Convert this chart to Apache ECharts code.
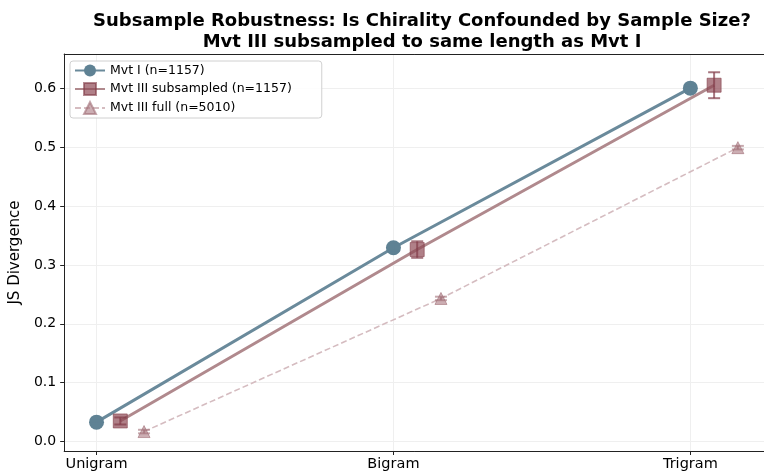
<!DOCTYPE html>
<html>
<head>
<meta charset="utf-8">
<script src="https://cdn.jsdelivr.net/npm/echarts@6/dist/echarts.min.js"></script>
<style>
  html, body { margin: 0; padding: 0; background: #fff; }
  #chart { width: 764px; height: 475px; }
</style>
</head>
<body>
<div id="chart"></div>
<script>
const categories = ['Unigram', 'Bigram', 'Trigram']
const yTicks = [0, 0.1, 0.2, 0.3, 0.4, 0.5, 0.6]

// JS divergence per n-gram level
const mvt1 = [0.033, 0.329, 0.600]
const mvt1Err = [0.003, 0.005, 0.004]
const mvt3Sub = [0.035, 0.326, 0.605]
const mvt3SubErr = [0.006, 0.014, 0.022]
const mvt3Full = [0.017, 0.243, 0.499]
const mvt3FullErr = [0.003, 0.003, 0.003]

const seriesNames = ['Mvt I (n=1157)', 'Mvt III subsampled (n=1157)', 'Mvt III full (n=5010)']
const offsets = [0, 0.08, 0.16]

const X_MIN = -0.109
const X_MAX = 2.248

const chart = echarts.init(document.getElementById('chart'))

const toPoints = (vals, off) => vals.map((v, i) => [i + off, v])
const toErr = (vals, errs, off) => vals.map((v, i) => [i + off, v, errs[i]])

const errorSeries = (name, vals, errs, off, color, z) => ({
  type: 'custom',
  name: name,
  z: z,
  silent: true,
  data: toErr(vals, errs, off),
  encode: { x: 0, y: 1 },
  renderItem: (params, api) => {
    const x = api.value(0)
    const y = api.value(1)
    const e = api.value(2)
    const lo = api.coord([x, y - e])
    const hi = api.coord([x, y + e])
    const cap = 6
    const style = { stroke: color, lineWidth: 2 }
    return {
      type: 'group',
      children: [
        { type: 'line', shape: { x1: lo[0], y1: lo[1], x2: hi[0], y2: hi[1] }, style },
        { type: 'line', shape: { x1: lo[0] - cap, y1: lo[1], x2: lo[0] + cap, y2: lo[1] }, style },
        { type: 'line', shape: { x1: hi[0] - cap, y1: hi[1], x2: hi[0] + cap, y2: hi[1] }, style }
      ]
    }
  }
})

const option = {
  animation: false,
  textStyle: { fontFamily: 'DejaVu Sans' },
  title: [
    {
      text: 'Subsample Robustness: Is Chirality Confounded by Sample Size?\nMvt III subsampled to same length as Mvt I',
      left: 417,
      top: 6,
      textAlign: 'center',
      textStyle: {
        fontFamily: 'DejaVu Sans',
        fontSize: 18,
        fontWeight: 'bold',
        color: '#000',
        lineHeight: 21
      }
    }
  ],
  grid: {
    left: 64,
    right: 0,
    top: 54,
    bottom: 24
  },
  legend: {
    orient: 'vertical',
    left: 70,
    top: 61,
    data: seriesNames,
    backgroundColor: 'rgba(255,255,255,0.85)',
    borderColor: '#d0d0d0',
    borderWidth: 1,
    borderRadius: 3,
    padding: [3, 30, 3, 4],
    itemGap: 5,
    itemWidth: 30,
    itemHeight: 15,
    textStyle: { fontSize: 12.5, color: '#000', fontFamily: 'DejaVu Sans' }
  },
  xAxis: [
    {
      type: 'value',
      min: X_MIN,
      max: X_MAX,
      axisLine: { show: true, onZero: false, lineStyle: { color: '#222', width: 1 } },
      axisTick: { show: true, length: 4, lineStyle: { color: '#222' }, customValues: [0, 1, 2] },
      axisLabel: {
        customValues: [0, 1, 2],
        formatter: v => categories[Math.round(v)],
        fontSize: 14.5,
        color: '#000',
        margin: 6
      },
      splitLine: { show: true, lineStyle: { color: '#efefef', width: 1 } }
    },
    {
      // top spine only
      type: 'value',
      position: 'top',
      min: X_MIN,
      max: X_MAX,
      axisLine: { show: true, onZero: false, lineStyle: { color: '#222', width: 1 } },
      axisTick: { show: false },
      axisLabel: { show: false },
      splitLine: { show: false }
    }
  ],
  yAxis: {
    type: 'value',
    min: -0.016,
    max: 0.658,
    name: 'JS Divergence',
    nameLocation: 'middle',
    nameGap: 41,
    nameTextStyle: { fontSize: 15, color: '#000' },
    axisLine: { show: true, onZero: false, lineStyle: { color: '#222', width: 1 } },
    axisTick: { show: true, length: 4, lineStyle: { color: '#222' }, customValues: yTicks },
    axisLabel: {
      customValues: yTicks,
      formatter: v => v.toFixed(1),
      fontSize: 14,
      color: '#000',
      margin: 8
    },
    splitLine: { show: true, lineStyle: { color: '#efefef', width: 1 } }
  },
  series: [
    {
      name: seriesNames[0],
      type: 'line',
      z: 3,
      data: toPoints(mvt1, offsets[0]),
      symbol: 'circle',
      symbolSize: 15,
      lineStyle: { color: '#6a8a9b', width: 3 },
      itemStyle: { color: '#5f8294', opacity: 1 }
    },
    errorSeries(seriesNames[0], mvt1, mvt1Err, offsets[0], '#5f8294', 4),
    {
      name: seriesNames[1],
      type: 'line',
      z: 5,
      data: toPoints(mvt3Sub, offsets[1]),
      symbol: 'rect',
      symbolSize: 14,
      lineStyle: { color: '#b0898d', width: 3 },
      itemStyle: { color: 'rgba(142, 74, 86, 0.7)', borderColor: 'rgba(130, 60, 72, 0.6)', borderWidth: 1 }
    },
    errorSeries(seriesNames[1], mvt3Sub, mvt3SubErr, offsets[1], 'rgba(130, 60, 72, 0.7)', 6),
    {
      name: seriesNames[2],
      type: 'line',
      z: 7,
      data: toPoints(mvt3Full, offsets[2]),
      symbol: 'triangle',
      symbolSize: 12,
      lineStyle: { color: '#d5bcc0', width: 1.6, type: [6, 3] },
      itemStyle: { color: 'rgba(170, 120, 128, 0.6)', borderColor: 'rgba(160, 110, 118, 0.6)', borderWidth: 1 }
    },
    errorSeries(seriesNames[2], mvt3Full, mvt3FullErr, offsets[2], 'rgba(160, 110, 118, 0.6)', 8)
  ]
}

chart.setOption(option)
</script>
</body>
</html>
